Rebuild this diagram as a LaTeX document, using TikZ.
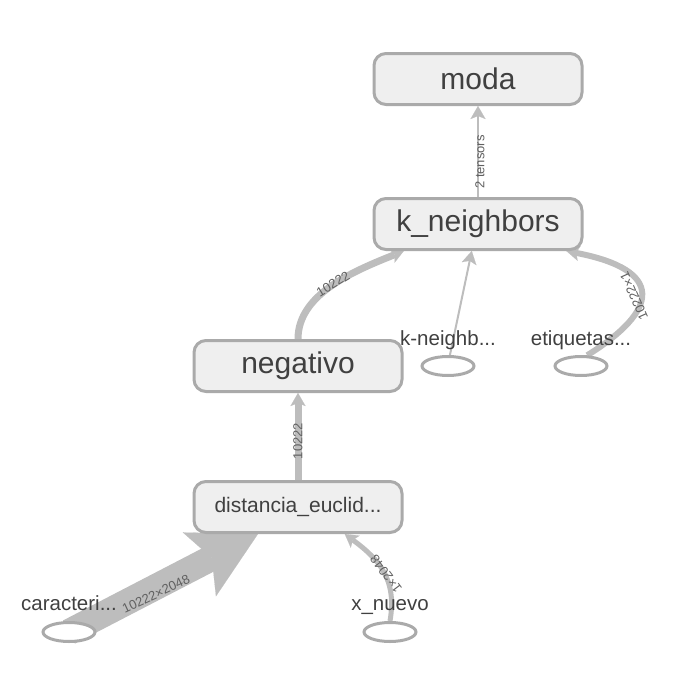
\documentclass[tikz,border=0pt]{standalone}
\usepackage{fontspec}
\setmainfont{Liberation Sans}
\usetikzlibrary{positioning, shapes.geometric, arrows.meta}
\definecolor{boxline}{HTML}{AAAAAA}
\definecolor{boxfill}{HTML}{EFEFEF}
\definecolor{edgegray}{HTML}{BDBDBD}
\definecolor{txt}{HTML}{404040}
\definecolor{lbltxt}{HTML}{606060}
\pgfdeclarelayer{bg}
\pgfsetlayers{bg,main}

\begin{document}
\begin{tikzpicture}[
            x=1pt, y=-1pt,
            opbox/.style={rectangle, draw=boxline, fill=boxfill, line width=3pt, rounded corners=12pt, minimum width=208pt, minimum height=51pt, text=txt, font=\fontsize{30}{30}\selectfont},
            smallbox/.style={opbox, font=\fontsize{21}{21}\selectfont},
            inp/.style={ellipse, draw=boxline, fill=white, line width=3pt, minimum width=52pt, minimum height=19pt, inner sep=0pt},
            inplabel/.style={text=txt, font=\fontsize{20.5}{20.5}\selectfont, anchor=base, inner sep=0pt},
            edge/.style={draw=edgegray, -{Stealth[length=13pt, width=15pt, inset=3pt, line width=0.1pt]}},
            elabel/.style={text=lbltxt, font=\fontsize{13}{13}\selectfont, inner sep=0pt}
        ]
        \useasboundingbox (0,0) rectangle (691,683);

        \node[opbox] (moda) at (478,79) {moda};
        \node[opbox] (kneighbors) at (478,224) {k\_neighbors};
        \node[opbox] (negativo) at (298,366) {negativo};
        \node[smallbox] (distancia) at (298,507) {distancia\_euclid...};

        % inputs
        \node[inp, label={[inplabel, label distance=10pt]90:k-neighb...}] (kneighb) at (448,366) {};
        \node[inp, label={[inplabel, label distance=10pt]90:etiquetas...}] (etiquetas) at (581,366) {};
        \node[inp, label={[inplabel, label distance=11pt]90:caracteri...}] (caracteri) at (69,632) {};
        \node[inp, label={[inplabel, label distance=11pt]90:x\_nuevo}] (xnuevo) at (390,632) {};

        \begin{pgfonlayer}{bg}
        \draw[edge, line width=2pt] (kneighbors.north) -- (moda.south);
        \draw[edge, line width=7pt] (negativo.north) .. controls +(0,-45) and +(-50,20) .. (kneighbors.200);
        \draw[edge, line width=2pt] (kneighb.80) -- (kneighbors.257);
        \draw[edge, line width=6pt] (etiquetas.60) .. controls (660,310) and (665,270) .. (kneighbors.-17);
        \draw[edge, line width=7pt] (distancia.north) -- (negativo.south);
        \draw[draw=edgegray, line width=26pt, -{Stealth[length=66pt, width=72pt, inset=14pt, line width=0.1pt]}] (caracteri.center) -- (distancia.214);
        \draw[edge, line width=5pt] (xnuevo.north) .. controls (397,580) and (380,560) .. (distancia.-30);
        \end{pgfonlayer}

        % edge labels
        \node[elabel, rotate=90] (l1) at (480,162) {2 tensors};
        \node[elabel, rotate=31] (l2) at (333,284) {10222};
        \node[elabel, rotate=114] (l3) at (634,296) {10222×1};
        \node[elabel, rotate=90] (l4) at (298,441) {10222};
        \node[elabel, rotate=25] (l5) at (156,594) {10222×2048};
        \node[elabel, rotate=127] (l6) at (386,574) {1×2048};
    \end{tikzpicture}
\end{document}
